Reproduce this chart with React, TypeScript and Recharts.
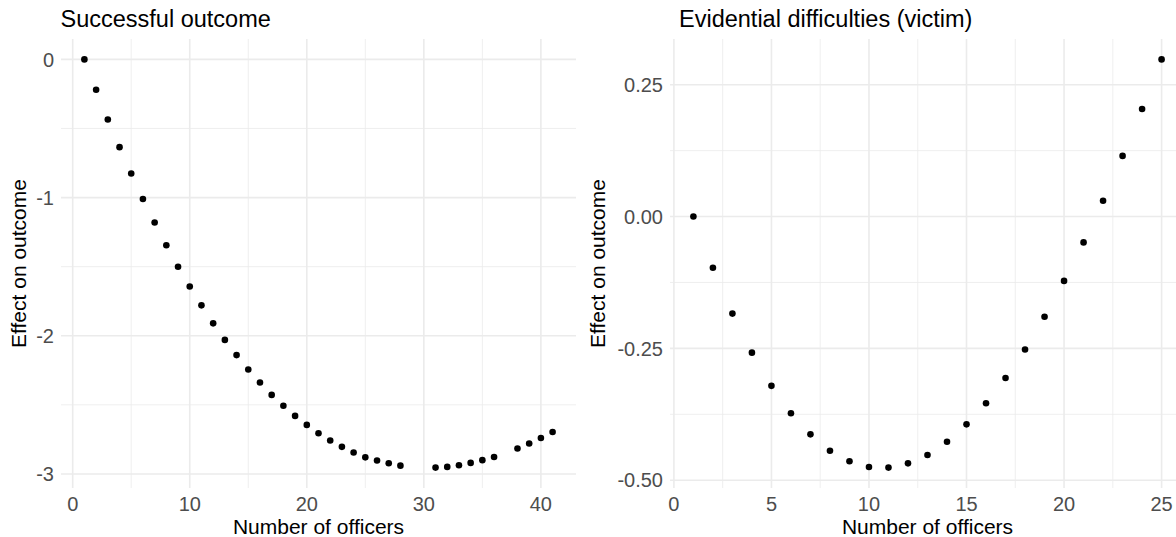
import React from "react";
import {
  ScatterChart,
  Scatter,
  XAxis,
  YAxis,
  CartesianGrid,
} from "recharts";

// Successful outcome panel
const successOfficers = [
  1, 2, 3, 4, 5, 6, 7, 8, 9, 10, 11, 12, 13, 14, 15, 16, 17, 18, 19, 20, 21,
  22, 23, 24, 25, 26, 27, 28, 31, 32, 33, 34, 35, 36, 38, 39, 40, 41,
];
const successEffect = [
  0, -0.22, -0.435, -0.635, -0.826, -1.01, -1.18, -1.345, -1.5, -1.643, -1.78,
  -1.91, -2.03, -2.14, -2.244, -2.338, -2.428, -2.507, -2.58, -2.645, -2.705,
  -2.758, -2.804, -2.845, -2.88, -2.903, -2.923, -2.94, -2.954, -2.949, -2.937,
  -2.92, -2.9, -2.877, -2.816, -2.78, -2.74, -2.696,
];
const successXTicks = [0, 10, 20, 30, 40];
const successXMinor = [5, 15, 25, 35];
const successYTicks = [-3, -2, -1, 0];
const successYMinor = [-2.5, -1.5, -0.5];

// Evidential difficulties (victim) panel
const victimOfficers = [
  1, 2, 3, 4, 5, 6, 7, 8, 9, 10, 11, 12, 13, 14, 15, 16, 17, 18, 19, 20, 21,
  22, 23, 24, 25,
];
const victimEffect = [
  0, -0.097, -0.184, -0.258, -0.321, -0.373, -0.413, -0.444, -0.464, -0.475,
  -0.476, -0.468, -0.452, -0.427, -0.394, -0.354, -0.306, -0.252, -0.19,
  -0.122, -0.049, 0.03, 0.115, 0.204, 0.298,
];
const victimXTicks = [0, 5, 10, 15, 20, 25];
const victimXMinor = [2.5, 7.5, 12.5, 17.5, 22.5];
const victimYTicks = [-0.5, -0.25, 0, 0.25];
const victimYMinor = [-0.375, -0.125, 0.125];

const FONT = "'Liberation Sans', Arial, Helvetica, sans-serif";
const GRID = "#EBEBEB";
const tickStyle = { fill: "#4D4D4D", fontSize: 20, fontFamily: FONT };
const axisTitle = { fill: "#000", fontSize: 21, fontFamily: FONT };

// ggplot-style 5% expansion
function expand(vals: number[]): [number, number] {
  const lo = Math.min(...vals);
  const hi = Math.max(...vals);
  const pad = (hi - lo) * 0.05;
  return [lo - pad, hi + pad];
}

const Dot = (props: any) => (
  <circle cx={props.cx} cy={props.cy} r={3.3} fill="#000" />
);

type PanelProps = {
  left: number;
  width: number;
  yAxisWidth: number;
  rightMargin: number;
  title: string;
  titleLeft: number;
  xs: number[];
  ys: number[];
  xTicks: number[];
  xMinor: number[];
  yTicks: number[];
  yMinor: number[];
  yFormat: (v: number) => string;
  yTitleOffset: number;
};

function Panel(p: PanelProps) {
  const data = p.xs.map((x, i) => ({ x, y: p.ys[i] }));
  return (
    <div style={{ position: "absolute", left: p.left, top: 0 }}>
      <div
        style={{
          position: "absolute",
          left: p.titleLeft,
          top: 8,
          fontSize: 23.5,
          lineHeight: "23.5px",
          fontFamily: FONT,
          color: "#000",
          whiteSpace: "nowrap",
        }}
      >
        {p.title}
      </div>
      <ScatterChart
        width={p.width}
        height={537}
        margin={{ top: 39, right: p.rightMargin, bottom: 0, left: 0 }}
      >
        <CartesianGrid
          stroke={GRID}
          strokeWidth={0.8}
          verticalValues={p.xMinor}
          horizontalValues={p.yMinor}
        />
        <CartesianGrid stroke={GRID} strokeWidth={1.6} syncWithTicks />
        <XAxis
          type="number"
          dataKey="x"
          domain={expand(p.xs)}
          ticks={p.xTicks}
          height={49}
          tickLine={false}
          axisLine={false}
          tickSize={0}
          tickMargin={9}
          tick={tickStyle}
          label={{
            value: "Number of officers",
            position: "insideBottom",
            offset: 3,
            style: axisTitle,
          }}
        />
        <YAxis
          type="number"
          dataKey="y"
          domain={expand(p.ys)}
          ticks={p.yTicks}
          width={p.yAxisWidth}
          tickLine={false}
          axisLine={false}
          tickSize={0}
          tickMargin={7}
          tick={tickStyle}
          tickFormatter={p.yFormat}
          label={{
            value: "Effect on outcome",
            angle: -90,
            position: "insideLeft",
            offset: p.yTitleOffset,
            style: { ...axisTitle, textAnchor: "middle" },
          }}
        />
        <Scatter data={data} shape={Dot} isAnimationActive={false} />
      </ScatterChart>
    </div>
  );
}

export default function App() {
  return (
    <div
      style={{
        position: "absolute",
        left: 0,
        top: 0,
        width: 1176,
        height: 537,
        background: "#fff",
        overflow: "hidden",
      }}
    >
      <Panel
        left={0}
        width={590}
        yAxisWidth={61}
        rightMargin={14}
        title="Successful outcome"
        titleLeft={60.5}
        xs={successOfficers}
        ys={successEffect}
        xTicks={successXTicks}
        xMinor={successXMinor}
        yTicks={successYTicks}
        yMinor={successYMinor}
        yFormat={(v) => String(v)}
        yTitleOffset={19}
      />
      <Panel
        left={578}
        width={607}
        yAxisWidth={92}
        rightMargin={0}
        title="Evidential difficulties (victim)"
        titleLeft={101}
        xs={victimOfficers}
        ys={victimEffect}
        xTicks={victimXTicks}
        xMinor={victimXMinor}
        yTicks={victimYTicks}
        yMinor={victimYMinor}
        yFormat={(v) => v.toFixed(2)}
        yTitleOffset={20}
      />
    </div>
  );
}
